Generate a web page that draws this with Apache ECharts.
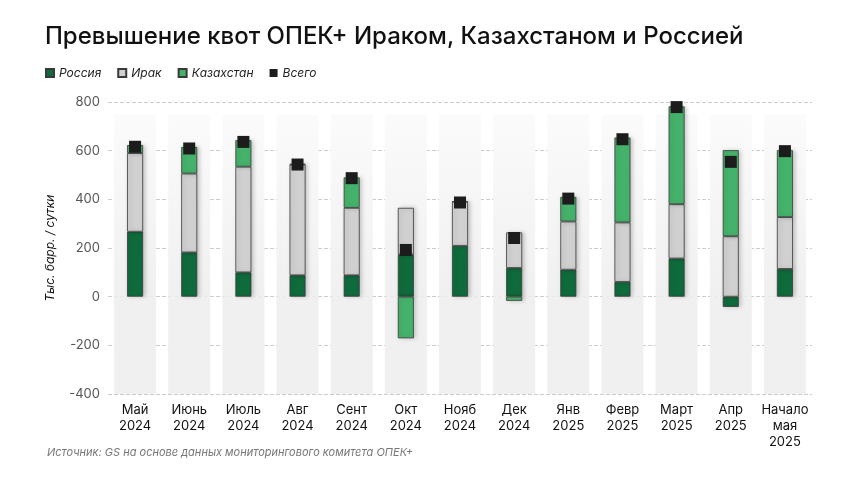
<!DOCTYPE html>
<html><head><meta charset="utf-8">
<script src="https://cdn.jsdelivr.net/npm/echarts@6/dist/echarts.min.js"></script>
<style>html,body{margin:0;background:#fff}#c{width:860px;height:484px}</style>
</head><body><div id="c"></div>
<script>
const categories = ['Май\n2024','Июнь\n2024','Июль\n2024','Авг\n2024','Сент\n2024','Окт\n2024','Нояб\n2024','Дек\n2024','Янв\n2025','Февр\n2025','Март\n2025','Апр\n2025','Начало\nмая\n2025'];
const russia = [267,182,100,88,88,174,209,118,111,61,157,-42,114];
const iraq   = [323,324,434,455,277,191,181,146,198,244,223,248,213];
const kazakh = [33,109,109,2,125,-171,2,-17,101,349,402,354,275];
const total  = [616,609,636,543,487,192,387,241,403,647,779,554,598];
const bgTop = categories.map(()=>750);
const bgBot = categories.map(()=>-400);
const font = 'Inter';
const border = {borderColor:'#3a3a3a', borderWidth:0.8, shadowBlur:4, shadowColor:'rgba(0,0,0,0.2)', shadowOffsetX:2};
const chart = echarts.init(document.getElementById('c'));
chart.setOption({
  textStyle:{fontFamily:font},
  title:{text:'Превышение квот ОПЕК+ Ираком, Казахстаном и Россией', left:40, top:20,
    textStyle:{fontFamily:font, fontSize:24, fontWeight:500, color:'#111'}},
  legend:{left:40, top:62, itemWidth:8, itemHeight:8, itemGap:16, icon:'rect',
    data:[{name:'Россия'},{name:'Ирак'},{name:'Казахстан'},{name:'Всего', itemStyle:{color:'#1c1c1c'}}],
    textStyle:{fontStyle:'italic', fontSize:12, color:'#222'}},
  graphic:[{type:'text', left:47, top:447, style:{text:'Источник: GS на основе данных мониторингового комитета ОПЕК+', fontStyle:'italic', fontSize:11, fill:'#777', fontFamily:font}}],
  grid:{left:108, right:48, top:102, bottom:90},
  xAxis:[{type:'category', data:categories, axisLine:{show:false}, axisTick:{show:false},
    axisLabel:{fontSize:13, color:'#111', lineHeight:16, margin:8, interval:0}},
    {type:'category', data:categories, show:false}],
  yAxis:{type:'value', min:-400, max:800, interval:200, name:'Тыс. барр. / сутки', nameLocation:'middle', nameGap:52, nameRotate:90,
    nameTextStyle:{fontStyle:'italic', fontSize:12, color:'#111'},
    axisLabel:{fontSize:13, color:'#555'},
    splitLine:{lineStyle:{type:'dashed', color:'#ccc'}}},
  series:[
    {name:'bg1', type:'bar', xAxisIndex:1, stack:'bg', data:bgTop, barWidth:42, silent:true, z:0,
      itemStyle:{color:new echarts.graphic.LinearGradient(0,0,0,1,[{offset:0,color:'#fbfbfb'},{offset:1,color:'#f0f0f0'}])}},
    {name:'bg2', type:'bar', xAxisIndex:1, stack:'bg', data:bgBot, barWidth:42, silent:true, z:0, itemStyle:{color:'#f0f0f0'}},
    {name:'Россия', type:'bar', stack:'a', data:russia, barWidth:16, itemStyle:Object.assign({color:'#0f6b3c'},border)},
    {name:'Ирак', type:'bar', stack:'a', data:iraq, barWidth:16, itemStyle:Object.assign({color:'#d0d0d0'},border)},
    {name:'Казахстан', type:'bar', stack:'a', data:kazakh, barWidth:16, itemStyle:Object.assign({color:'#45b26b'},border)},
    {name:'Всего', type:'scatter', data:total, symbol:'rect', symbolSize:12, z:5,
      itemStyle:{color:'#1c1c1c', opacity:1}}
  ]
});
</script></body></html>
